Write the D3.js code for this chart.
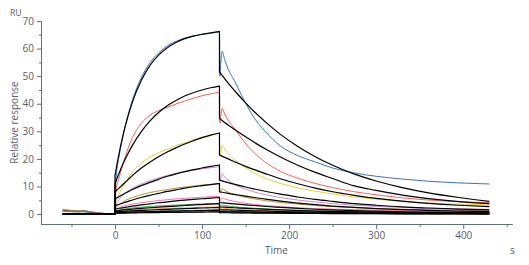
<!DOCTYPE html>
<html>
<head>
<meta charset="utf-8">
<script src="https://cdn.jsdelivr.net/npm/d3@7"></script>
<style>
  body { margin: 0; background: #fff; }
  svg { display: block; font-family: "Open Sans", "Noto Sans", sans-serif; }
  .axis path, .axis line { stroke: #5f6f80; stroke-width: 1; }
  .axis text { fill: #56606a; font-size: 10px; font-family: "Open Sans", sans-serif; }
  .label { fill: #56606a; font-size: 10px; }
</style>
</head>
<body>
<svg id="chart" width="529" height="265"></svg>
<script>
// sample times (s) for each phase of the sensorgram
const tBase = [-60, -50, -42, -37, -30, -20, -10, 0];
const tAssoc = [0, 1, 5, 10, 15, 20, 30, 40, 50, 60, 70, 80, 90, 100, 110, 120];
const tDiss = [120.5, 122, 123, 126, 130, 137, 145, 153, 160, 172, 190, 210, 230, 250, 275, 300, 330, 360, 395, 430];
const tFitAssoc = [0, 5, 10, 15, 20, 30, 40, 50, 60, 70, 80, 90, 100, 110, 120];
const tFitDiss = [120, 130, 140, 150, 160, 175, 190, 210, 230, 250, 275, 300, 330, 360, 395, 430];

// measured curves (RU), highest concentration first
const measuredBase = [
  [1.6, 1.3, 1.1, 1.3, 0.9, 0.5, 0.15, 0],
  [1.5, 1.2, 1.0, 1.2, 0.85, 0.45, 0.1, 0],
  [1.4, 1.2, 1.0, 1.15, 0.8, 0.4, 0.1, 0],
  [1.3, 1.1, 0.95, 1.1, 0.75, 0.4, 0.1, 0],
  [1.5, 1.25, 1.05, 1.25, 0.85, 0.45, 0.12, 0],
  [1.2, 1.0, 0.9, 1.0, 0.7, 0.35, 0.1, 0],
  [1.1, 0.95, 0.85, 0.95, 0.65, 0.3, 0.08, 0],
  [1.3, 1.1, 0.95, 1.1, 0.75, 0.4, 0.1, 0],
  [1.0, 0.85, 0.75, 0.85, 0.6, 0.3, 0.05, 0],
  [1.4, 1.15, 1.0, 1.2, 0.8, 0.4, 0.1, 0]
];
const measuredAssoc = [
  [0, 12, 21.5, 29.5, 36, 41.3, 49.3, 54.8, 58.4, 61, 62.6, 63.8, 64.6, 65.2, 65.6, 66.0],
  [0, 8, 13.5, 19, 23.8, 27.7, 32.8, 35.8, 37.5, 38.7, 39.9, 41, 42, 42.9, 43.6, 44.2],
  [0, 4.5, 7.5, 10.5, 13, 15.2, 18.4, 20.6, 22.2, 23.5, 24.8, 25.9, 26.9, 27.9, 28.7, 29.4],
  [0, 3, 5.3, 7.1, 8.3, 9.3, 10.9, 12.1, 13.1, 14, 14.7, 15.3, 15.9, 16.4, 16.8, 17.2],
  [0, 2, 3.5, 4.6, 5.4, 6, 7, 7.8, 8.4, 8.9, 9.4, 9.8, 10.2, 10.5, 10.8, 11],
  [0, 1.3, 2.3, 2.9, 3.3, 3.6, 4.1, 4.5, 4.9, 5.2, 5.5, 5.7, 5.9, 6.1, 6.3, 6.4],
  [0, 0.8, 1.4, 1.8, 2.0, 2.2, 2.5, 2.75, 2.95, 3.1, 3.25, 3.4, 3.55, 3.65, 3.8, 3.9],
  [0, 0.5, 0.9, 1.15, 1.3, 1.45, 1.65, 1.8, 1.95, 2.05, 2.15, 2.25, 2.35, 2.45, 2.55, 2.6],
  [0, 0.3, 0.5, 0.65, 0.75, 0.85, 0.95, 1.05, 1.12, 1.2, 1.25, 1.3, 1.37, 1.42, 1.47, 1.5],
  [0, 0.15, 0.3, 0.35, 0.4, 0.45, 0.5, 0.55, 0.6, 0.63, 0.66, 0.7, 0.73, 0.75, 0.78, 0.8]
];
const measuredDiss = [
  [50, 56.5, 59, 56, 52.5, 48.5, 43.3, 38.5, 34.8, 30.2, 24.7, 21.2, 18.9, 16.7, 14.9, 13.7, 12.7, 11.9, 11.3, 10.9],
  [33, 36.5, 38.3, 36.3, 34, 31.2, 27.6, 24.4, 22.2, 19.0, 15.5, 13.0, 11.1, 9.6, 8.1, 7.0, 5.9, 5.1, 4.5, 4.1],
  [21, 23.5, 25, 23.6, 22, 19.8, 17.7, 16.2, 14.9, 13.1, 11.1, 9.5, 8.3, 7.3, 6.2, 5.4, 4.6, 4.0, 3.6, 3.3],
  [12, 13.6, 14.6, 13.5, 12.3, 10.8, 9.6, 8.7, 8.0, 7.1, 6.0, 5.1, 4.4, 3.8, 3.2, 2.8, 2.4, 2.1, 1.9, 1.7],
  [7.6, 8.6, 9.2, 8.6, 7.9, 7.1, 6.4, 5.9, 5.5, 4.9, 4.2, 3.6, 3.1, 2.7, 2.3, 2.0, 1.75, 1.55, 1.35, 1.2],
  [4.8, 5.5, 5.9, 5.5, 5.1, 4.6, 4.1, 3.8, 3.5, 3.1, 2.7, 2.3, 2.0, 1.8, 1.6, 1.4, 1.25, 1.1, 1.0, 0.9],
  [2.8, 3.1, 3.3, 3.1, 2.9, 2.65, 2.4, 2.25, 2.1, 1.9, 1.6, 1.4, 1.2, 1.1, 0.95, 0.85, 0.75, 0.68, 0.6, 0.55],
  [1.8, 2.05, 2.2, 2.05, 1.9, 1.75, 1.6, 1.5, 1.4, 1.25, 1.1, 0.95, 0.85, 0.75, 0.65, 0.58, 0.5, 0.45, 0.4, 0.35],
  [1.0, 1.12, 1.2, 1.12, 1.05, 0.97, 0.9, 0.84, 0.8, 0.7, 0.6, 0.52, 0.45, 0.4, 0.35, 0.3, 0.25, 0.22, 0.2, 0.15],
  [0.5, 0.6, 0.65, 0.6, 0.55, 0.5, 0.45, 0.42, 0.4, 0.35, 0.3, 0.25, 0.2, 0.18, 0.15, 0.12, 0.1, 0.07, 0.05, 0.02]
];

// fitted curves (black)
const fitAssoc = [
  [14, 22.5, 29.6, 35.5, 40.6, 48.3, 53.8, 57.6, 60.3, 62.2, 63.6, 64.5, 65.2, 65.7, 66.2],
  [11, 15.1, 18.8, 22.0, 24.9, 29.8, 33.7, 36.8, 39.3, 41.2, 42.8, 44.0, 45.0, 45.8, 46.4],
  [8, 9.5, 11, 12.5, 14, 16.6, 18.8, 20.8, 22.5, 24, 25.4, 26.6, 27.7, 28.6, 29.4],
  [5.5, 6.4, 7.3, 8.1, 8.9, 10.3, 11.5, 12.6, 13.7, 14.6, 15.4, 16.1, 16.7, 17.3, 17.8],
  [3, 3.55, 4.1, 4.6, 5.1, 6.0, 6.8, 7.5, 8.2, 8.8, 9.4, 9.9, 10.3, 10.7, 11.1],
  [1.8, 2.1, 2.35, 2.6, 2.85, 3.3, 3.7, 4.1, 4.4, 4.75, 5.05, 5.3, 5.55, 5.8, 6.0],
  [1.2, 1.35, 1.5, 1.65, 1.8, 2.05, 2.3, 2.5, 2.7, 2.9, 3.1, 3.3, 3.45, 3.6, 3.8],
  [0.8, 0.9, 1.0, 1.08, 1.17, 1.32, 1.47, 1.6, 1.73, 1.85, 1.97, 2.08, 2.2, 2.3, 2.4],
  [0.5, 0.55, 0.6, 0.65, 0.7, 0.78, 0.86, 0.93, 1.0, 1.07, 1.14, 1.2, 1.27, 1.33, 1.4],
  [0.3, 0.33, 0.36, 0.39, 0.42, 0.47, 0.51, 0.55, 0.59, 0.63, 0.67, 0.7, 0.73, 0.77, 0.8]
];
const fitDiss = [
  [51.6, 47.5, 43.8, 40.3, 37.1, 32.8, 28.9, 24.5, 20.8, 17.7, 14.5, 12.0, 9.6, 7.7, 6.0, 4.6],
  [34.7, 32.3, 30.1, 28.0, 26.0, 23.2, 20.7, 17.7, 15.1, 12.9, 10.2, 8.6, 6.9, 5.6, 4.5, 3.8],
  [21.4, 20.0, 18.6, 17.3, 16.1, 14.4, 12.8, 11.0, 9.4, 8.1, 6.8, 5.7, 4.7, 3.9, 3.2, 2.7],
  [12.3, 11.4, 10.6, 9.8, 9.1, 8.1, 7.2, 6.2, 5.3, 4.6, 3.8, 3.2, 2.6, 2.2, 1.8, 1.5],
  [8.1, 7.5, 7.0, 6.5, 6.0, 5.3, 4.7, 4.0, 3.4, 2.9, 2.4, 2.0, 1.6, 1.35, 1.1, 0.9],
  [4.2, 3.9, 3.6, 3.35, 3.1, 2.75, 2.45, 2.05, 1.75, 1.5, 1.25, 1.05, 0.85, 0.7, 0.55, 0.45],
  [2.6, 2.42, 2.25, 2.08, 1.93, 1.72, 1.53, 1.3, 1.1, 0.95, 0.78, 0.65, 0.52, 0.43, 0.34, 0.28],
  [1.6, 1.49, 1.38, 1.28, 1.19, 1.06, 0.94, 0.8, 0.68, 0.58, 0.48, 0.4, 0.32, 0.26, 0.21, 0.17],
  [0.9, 0.84, 0.78, 0.72, 0.67, 0.6, 0.53, 0.45, 0.38, 0.33, 0.27, 0.22, 0.18, 0.15, 0.12, 0.1],
  [0.5, 0.47, 0.43, 0.4, 0.37, 0.33, 0.29, 0.25, 0.21, 0.18, 0.15, 0.12, 0.1, 0.08, 0.07, 0.05]
];

const curveColors = ["#3d6fc4", "#ff5c5c", "#e3d43a", "#c98ad6", "#b8953a",
                     "#ff73b4", "#3fa94a", "#ff9b3d", "#2f8fb0", "#8a6a4a"];

const yMajor = [0, 10, 20, 30, 40, 50, 60, 70];
const yMinor = [5, 15, 25, 35, 45, 55, 65];
const xMajor = [0, 100, 200, 300, 400];
const xMinor = [-50, 50, 150, 250, 350, 450];

const svg = d3.select("#chart");

// scales
let x = d3.scaleLinear().domain([-85, 456]).range([41, 512]);
let y = d3.scaleLinear().domain([-3.6, 70]).range([224, 21]);

// axes
svg.append("g").attr("class", "axis")
   .attr("transform", "translate(41,0)")
   .call(d3.axisLeft(y).tickValues(yMinor).tickSize(2).tickSizeOuter(0).tickFormat(""));
svg.append("g").attr("class", "axis")
   .attr("transform", "translate(41,0)")
   .call(d3.axisLeft(y).tickValues(yMajor).tickSize(4).tickSizeOuter(0).tickPadding(3));

svg.append("g").attr("class", "axis")
   .attr("transform", "translate(0,224)")
   .call(d3.axisBottom(x).tickValues(xMinor).tickSize(3).tickSizeOuter(0).tickFormat(""));
svg.append("g").attr("class", "axis")
   .attr("transform", "translate(0,224)")
   .call(d3.axisBottom(x).tickValues(xMajor).tickSize(5).tickSizeOuter(0).tickPadding(3));

// axis titles
svg.append("text").attr("class", "label").attr("x", 21.5).attr("y", 16)
   .attr("text-anchor", "end").style("font-size", "8.5px").text("RU");
svg.append("text").attr("class", "label")
   .attr("transform", "translate(18,122.5) rotate(-90)")
   .attr("text-anchor", "middle").text("Relative response");
svg.append("text").attr("class", "label").attr("x", 276.5).attr("y", 254)
   .attr("text-anchor", "middle").text("Time");
svg.append("text").attr("class", "label").attr("x", 510).attr("y", 254).text("s");

// each phase drawn smoothly, joined to the next with a straight segment
let line = d3.line().x(d => x(d[0])).y(d => y(d[1])).curve(d3.curveMonotoneX);
function sensorPath(phases) {
    return phases.map((pts, i) => i === 0 ? line(pts) : line(pts).replace(/^M/, "L")).join("");
}
const zip = (ts, vs) => ts.map((t, i) => [t, vs[i]]);

let curves = svg.append("g").attr("fill", "none");

// measured responses
curves.selectAll("path.measured")
      .data(measuredAssoc)
      .join("path")
      .attr("class", "measured")
      .attr("stroke", (d, i) => curveColors[i])
      .attr("stroke-width", 1)
      .attr("d", (d, i) => sensorPath([
          zip(tBase, measuredBase[i]),
          zip(tAssoc, measuredAssoc[i]),
          zip(tDiss, measuredDiss[i])
      ]));

// fitted curves on top
curves.selectAll("path.fit")
      .data(fitAssoc)
      .join("path")
      .attr("class", "fit")
      .attr("stroke", "#000")
      .attr("stroke-width", 1.2)
      .attr("d", (d, i) => sensorPath([
          [[-60, 0], [0, 0]],
          zip(tFitAssoc, fitAssoc[i]),
          zip(tFitDiss, fitDiss[i])
      ]));
</script>
</body>
</html>
